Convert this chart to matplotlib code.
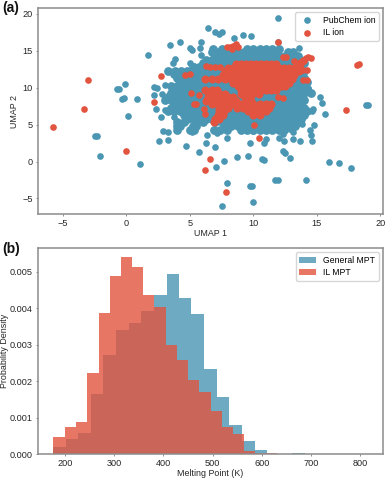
import numpy as np
import matplotlib
matplotlib.use("Agg")
import matplotlib.pyplot as plt

plt.rcParams['font.family'] = ['Liberation Sans', 'DejaVu Sans']

pubchem_rows = [
    (15.3, [6.8, 7.5, 8.25, 9.5, 10.0, 10.5, 11.0, 11.5, 12.0]),
    (14.8, [6.75, 7.25, 7.75, 8.25, 8.75, 9.25, 9.75, 10.25, 10.75, 11.25, 11.75, 12.75, 13.1]),
    (14.3, [7.0, 7.5, 8.0, 8.5, 9.0, 9.5, 10.0, 10.5, 11.0, 11.5, 12.0, 12.5, 13.0, 13.5]),
    (13.8, [6.25, 6.75, 7.25, 7.75, 8.25, 8.75, 9.25, 9.75, 10.25, 10.75, 11.25, 11.75, 12.25, 12.75, 13.25, 13.75]),
    (13.3, [6.0, 6.5, 7.0, 7.5, 8.0, 8.5, 9.0, 9.5, 10.0, 10.5, 11.0, 11.5, 12.0, 12.5, 13.0, 13.5, 14.0]),
    (12.8, [5.25, 5.75, 6.25, 6.75, 7.25, 7.75, 8.25, 8.75, 9.25, 9.75, 10.25, 10.75, 11.25, 11.75, 12.25, 12.75, 13.25, 13.75]),
    (12.3, [3.3, 3.8, 4.3, 4.8, 5.5, 6.0, 6.5, 7.0, 7.5, 8.0, 8.5, 9.0, 9.5, 10.0, 10.5, 11.0, 11.5, 12.0, 12.5, 13.0, 13.5, 14.0]),
    (11.8, [3.75, 4.25, 4.75, 5.25, 5.75, 6.25, 6.75, 7.25, 7.75, 8.25, 8.75, 9.25, 9.75, 10.25, 10.75, 11.25, 11.75, 12.25, 12.75, 13.25, 13.75]),
    (11.3, [4.0, 4.5, 5.0, 5.5, 6.0, 6.5, 7.0, 7.5, 8.0, 8.5, 9.0, 9.5, 10.0, 10.5, 11.0, 11.5, 12.0, 12.5, 13.0, 13.5, 14.0]),
    (10.8, [4.25, 4.75, 5.25, 5.75, 6.25, 6.75, 7.25, 7.75, 8.25, 8.75, 9.25, 9.75, 10.25, 10.75, 11.25, 11.75, 12.25, 12.75, 13.25, 13.75, 14.25]),
    (10.3, [3.5, 4.0, 4.5, 5.0, 5.5, 6.0, 6.5, 7.0, 7.5, 8.0, 8.5, 9.0, 9.5, 10.0, 10.5, 11.0, 11.5, 12.0, 12.5, 13.0, 13.5, 14.0]),
    (9.8, [3.75, 4.25, 4.75, 5.25, 5.75, 6.25, 6.75, 7.25, 7.75, 8.25, 8.75, 9.25, 9.75, 10.25, 10.75, 11.25, 11.75, 12.25, 12.75, 13.25, 13.75, 14.25]),
    (9.3, [3.5, 4.0, 4.5, 5.0, 5.5, 6.0, 6.5, 7.0, 7.5, 8.0, 8.5, 9.0, 9.5, 10.0, 10.5, 11.0, 11.5, 12.0, 12.5, 13.0, 13.5, 14.0, 14.5]),
    (8.8, [3.25, 3.75, 4.25, 4.75, 5.25, 5.75, 6.25, 6.75, 7.25, 7.75, 8.25, 8.75, 9.25, 9.75, 10.25, 10.75, 11.25, 11.75, 12.25, 12.75, 13.25, 13.75]),
    (8.3, [3.0, 3.5, 4.0, 4.5, 5.0, 5.5, 6.0, 6.5, 7.0, 7.5, 8.0, 8.5, 9.0, 9.5, 10.0, 10.5, 11.0, 11.5, 12.0, 12.5, 13.0, 13.5, 14.0]),
    (7.8, [3.75, 4.25, 4.75, 5.25, 5.75, 6.25, 6.75, 7.25, 7.75, 8.25, 8.75, 9.25, 9.75, 10.25, 10.75, 11.25, 11.75, 12.25, 12.75, 13.25, 13.75]),
    (7.3, [3.5, 4.0, 4.5, 5.0, 5.5, 6.0, 6.5, 7.0, 7.5, 8.0, 8.5, 9.0, 9.5, 10.0, 10.5, 11.0, 11.5, 12.0, 12.5, 13.0, 13.5, 14.0]),
    (6.8, [3.25, 3.75, 4.25, 4.75, 5.25, 5.75, 6.25, 6.75, 7.25, 7.75, 8.25, 8.75, 9.25, 9.75, 10.25, 10.75, 11.25, 11.75, 12.25, 12.75, 13.25, 13.75, 14.25]),
    (6.3, [4.5, 5.0, 5.5, 6.0, 6.5, 7.0, 7.5, 8.0, 8.5, 9.0, 9.5, 10.0, 10.5, 11.0, 11.5, 12.0, 12.5, 13.0, 13.5, 14.0]),
    (5.8, [4.75, 5.25, 5.75, 6.25, 6.75, 7.25, 7.75, 8.25, 8.75, 9.25, 9.75, 10.25, 10.75, 11.25, 11.75, 12.25, 12.75, 13.25, 13.75]),
    (5.3, [4.0, 4.5, 5.5, 6.0, 7.0, 7.5, 8.0, 8.5, 9.0, 9.5, 10.0, 10.5, 11.0, 11.5, 12.0, 12.5, 13.0, 13.5]),
    (4.8, [4.0, 4.25, 5.25, 5.5, 7.75, 8.25, 8.75, 9.25, 9.75, 10.25, 10.75, 11.25, 11.75, 12.25, 12.75, 13.25]),
    (4.3, [4.0, 5.0, 5.3, 6.9, 7.4, 7.9, 9.0, 9.5, 10.0, 10.5, 11.0, 11.5, 12.0, 12.4]),
]

pubchem_x = [11.95, 6.45, 7.0, 7.25, 7.55, 8.5, 9.15, 9.8, 11.95, 13.6, 3.4, 4.2, 5.85, 5.8, 5.0, 5.2,
             1.7, 3.8, 3.65, 5.85, 5.0, 5.3, 3.0, -0.75, -0.6, -0.1, -0.35, -0.2, 0.85, 0.1, -2.5, -2.3,
             -2.1, 1.1, 2.2, 2.4, 2.2, 2.8, 2.3, 3.0, 2.75, 3.75, 2.9, 3.3, 3.95, 5.15, 2.6, 3.3, 4.7,
             5.75, 6.3, 6.35, 7.0, 7.95, 7.1, 9.7, 10.0, 10.8, 11.0, 12.0, 12.3, 12.4, 12.9, 13.1, 13.1,
             13.7, 14.6, 14.55, 14.45, 14.75, 13.8, 12.35, 12.5, 12.9, 15.95, 16.7, 17.7, 8.7, 9.6, 10.65,
             10.85, 7.7, 7.05, 7.95, 9.7, 9.9, 9.95, 7.5, 11.7, 11.95, 14.15, 15.25, 15.4, 15.65, 14.6,
             14.7, 18.9, 19.05, 14.3]
pubchem_y = [19.5, 18.15, 17.5, 17.3, 17.5, 16.75, 17.2, 17.0, 16.15, 15.35, 15.75, 16.2, 16.25, 15.4, 15.4, 15.1,
             14.4, 13.9, 13.4, 14.4, 13.4, 13.0, 10.4, 9.85, 9.85, 10.45, 8.5, 8.6, 8.5, 6.2, 3.4, 3.5,
             0.8, -0.3, 10.1, 9.9, 9.0, 9.1, 7.1, 7.05, 6.0, 6.0, 4.2, 4.0, 4.4, 4.0, 2.75, 2.9, 2.1,
             1.35, 2.55, 3.6, 2.0, 3.25, 3.85, 2.5, 4.1, 2.5, 3.05, 3.25, 3.75, 2.75, 4.4, 4.0, 3.05,
             2.85, 2.85, 3.55, 4.3, 5.0, 5.1, 1.5, 1.1, 0.5, 0.0, -0.2, -0.9, 0.6, 0.8, 0.35,
             0.25, 0.1, -0.7, -2.9, -3.35, -3.25, -5.45, -5.95, -2.55, -2.55, -2.5, 8.7, 7.9, 6.45, 6.9,
             7.15, 7.7, 7.65, 9.9]

# IL blob and clusters, same row format
il_rows = [
    (13.2, [8.6, 9.0, 9.4, 9.8, 10.2, 10.6, 11.0, 11.4, 11.8, 13.65]),
    (12.7, [8.0, 8.4, 8.8, 9.2, 9.6, 10.0, 10.4, 10.8, 11.2, 11.6, 12.0, 12.4, 12.8, 13.2]),
    (12.2, [7.8, 8.2, 8.6, 9.0, 9.4, 9.8, 10.2, 10.6, 11.0, 11.4, 11.8, 12.2, 12.6, 13.0, 13.4, 13.6]),
    (11.7, [7.6, 8.0, 8.4, 8.8, 9.2, 9.6, 10.0, 10.4, 10.8, 11.2, 11.6, 12.0, 12.4, 12.8, 13.2]),
    (11.2, [6.2, 6.7, 7.2, 7.8, 8.2, 8.6, 9.0, 9.4, 9.8, 10.2, 10.6, 11.0, 11.4, 11.8, 12.2, 12.6, 13.0]),
    (10.7, [8.4, 8.8, 9.2, 9.6, 10.0, 10.4, 10.8, 11.2, 11.6, 12.0, 12.4, 12.8]),
    (10.2, [8.8, 9.0, 9.4, 9.8, 10.2, 10.6, 11.0, 11.4, 11.8, 12.2, 12.5]),
    (9.7, [6.2, 6.7, 7.1, 9.0, 9.4, 9.8, 10.2, 10.6, 11.0, 11.4, 11.8]),
    (9.2, [6.5, 7.0, 7.4, 7.8, 9.0, 9.4, 9.9, 10.4]),
    (8.7, [6.4, 6.8, 7.2, 7.6, 8.0, 8.4, 9.3, 9.7]),
    (8.2, [6.3, 6.7, 7.1, 7.5, 7.9, 8.3, 8.6, 9.4, 9.8]),
    (7.8, [6.7, 7.2, 7.7, 8.3, 9.0, 9.5, 10.0, 10.5, 11.0, 11.4]),
    (7.3, [7.3, 7.7, 8.0, 8.7, 9.2, 9.7, 10.2, 10.7, 11.2]),
    (6.8, [7.3, 7.7, 9.6, 10.1, 10.6, 11.0]),
    (6.3, [7.2, 7.6, 10.0, 10.5]),
    (5.8, [7.0, 7.3]),
    (5.4, [6.9]),
]

il_x = [-5.75, -3.35, -3.0, 0.0, 2.75, 2.15, 4.6, 5.0, 6.2, 6.55, 7.85, 10.45, 10.05, 11.95, 17.25, 18.15, 18.3,
        5.1, 5.7, 5.3, 5.5, 6.1, 6.2, 11.9, 12.35, 6.3, 6.6, 7.0, 7.4, 7.9, 8.15, 8.4, 8.6, 8.8, 8.3,
        12.35, 12.6, 13.9, 14.2, 13.9, 14.2, 13.2, 13.9, 14.1, 14.3, 14.5, 13.4, 13.7, 14.0]
il_y = [4.7, 7.15, 11.0, 1.4, 11.65, 8.05, 11.7, 11.9, -1.15, 0.4, -4.1, 3.25, 5.0, 16.15, 7.0, 13.1, 13.2,
        9.25, 9.0, 7.8, 7.8, 7.15, 6.5, 8.7, 8.65, 12.95, 12.8, 12.75, 12.8, 15.5, 15.5, 15.7, 15.9, 15.5, 15.3,
        14.2, 14.2, 12.4, 12.4, 11.0, 11.0, 13.6, 13.8, 14.0, 14.1, 14.0, 13.2, 13.5, 13.6]

general_edges = [176.3, 201.9, 227.0, 252.0, 277.8, 304.2, 329.3, 355.0, 380.8, 406.6, 431.7, 456.9, 482.7,
                 508.5, 533.6, 559.3, 585.1, 610.2, 636.0, 661.7, 687.5, 713.0]
general_density = [0.0002, 0.0004, 0.00057, 0.00165, 0.00272, 0.0034, 0.00358, 0.00393, 0.00437, 0.00495,
                   0.00427, 0.00383, 0.00233, 0.00155, 0.0008, 0.00035, 0.0001, 0.00001, 0.00001, 0.00004, 0.00001]

il_edges = [176.3, 199.3, 223.0, 245.4, 268.5, 290.8, 313.2, 336.3, 358.6, 381.0, 404.7, 427.1, 450.2,
            472.5, 495.6, 518.0, 541.0, 563.4, 586.4, 608.8, 631.2]
il_density = [0.00047, 0.00073, 0.00089, 0.00223, 0.00386, 0.00487, 0.00539, 0.00514, 0.00437, 0.00403,
              0.003, 0.00257, 0.00203, 0.0017, 0.00119, 0.00073, 0.00055, 0.00007, 0.00004, 0.00002]

BLUE = '#4a96b3'
RED = '#e2543f'
SPINE = '#8c8c8c'
TEXT = '#262626'
W, H = 387.0, 479.0


def style(ax):
    for s in ax.spines.values():
        s.set_color(SPINE)
        s.set_linewidth(1.1)
    ax.tick_params(length=1.5, width=0.7, color=SPINE, labelsize=6.6, labelcolor=TEXT, pad=2)


fig = plt.figure(figsize=(3.87, 4.79), dpi=100)

# panel a
ax1 = fig.add_axes([37.5 / W, 1 - 214 / H, 345.5 / W, 206 / H])
bx = []
by = []
for yv, xs in pubchem_rows:
    bx += xs
    by += [yv] * len(xs)
rx = []
ry = []
for yv, xs in il_rows:
    rx += xs
    ry += [yv] * len(xs)
# rows are spaced wider than one dot, so the blobs get a fatter marker to close up
ax1.scatter(bx, by, s=40, color=BLUE, linewidths=0)
ax1.scatter(pubchem_x, pubchem_y, s=23, color=BLUE, linewidths=0, label='PubChem ion')
ax1.scatter(rx, ry, s=34, color=RED, linewidths=0)
ax1.scatter(il_x, il_y, s=23, color=RED, linewidths=0, label='IL ion')
ax1.set_xlim(-7.0, 20.2)
ax1.set_ylim(-7.1, 20.8)
ax1.set_xticks([-5, 0, 5, 10, 15, 20])
ax1.set_yticks([-5, 0, 5, 10, 15, 20])
ax1.set_xlabel('UMAP 1', fontsize=6.4, color=TEXT, labelpad=0.5)
ax1.set_ylabel('UMAP 2', fontsize=6.4, color=TEXT, labelpad=2)
style(ax1)
ax1.legend(loc='upper right', fontsize=6.2, frameon=True, handletextpad=0.8, labelspacing=0.4)

# panel b
ax2 = fig.add_axes([37.5 / W, 1 - 454 / H, 345.5 / W, 206 / H])
ax2.bar(general_edges[:-1], general_density, width=np.diff(general_edges), align='edge',
        color=BLUE, alpha=0.8, linewidth=0, label='General MPT')
ax2.bar(il_edges[:-1], il_density, width=np.diff(il_edges), align='edge',
        color=RED, alpha=0.8, linewidth=0, label='IL MPT')
ax2.set_xlim(144, 846)
ax2.set_ylim(0, 0.00565)
ax2.set_xticks([200, 300, 400, 500, 600, 700, 800])
ax2.set_yticks([0, 0.001, 0.002, 0.003, 0.004, 0.005])
ax2.set_yticklabels(['0.000', '0.001', '0.002', '0.003', '0.004', '0.005'])
ax2.set_xlabel('Melting Point (K)', fontsize=6.4, color=TEXT, labelpad=0.5)
ax2.set_ylabel('Probability Density', fontsize=6.4, color=TEXT, labelpad=0.5)
style(ax2)
ax2.legend(loc='upper right', fontsize=6.2, frameon=True, handletextpad=0.8, labelspacing=0.4)

fig.text(2 / W, 1 - 8 / H, '(a)', fontsize=10, fontweight='bold', color='#111111', va='center')
fig.text(2 / W, 1 - 249 / H, '(b)', fontsize=10, fontweight='bold', color='#111111', va='center')

fig.savefig('out.png', dpi=100)
